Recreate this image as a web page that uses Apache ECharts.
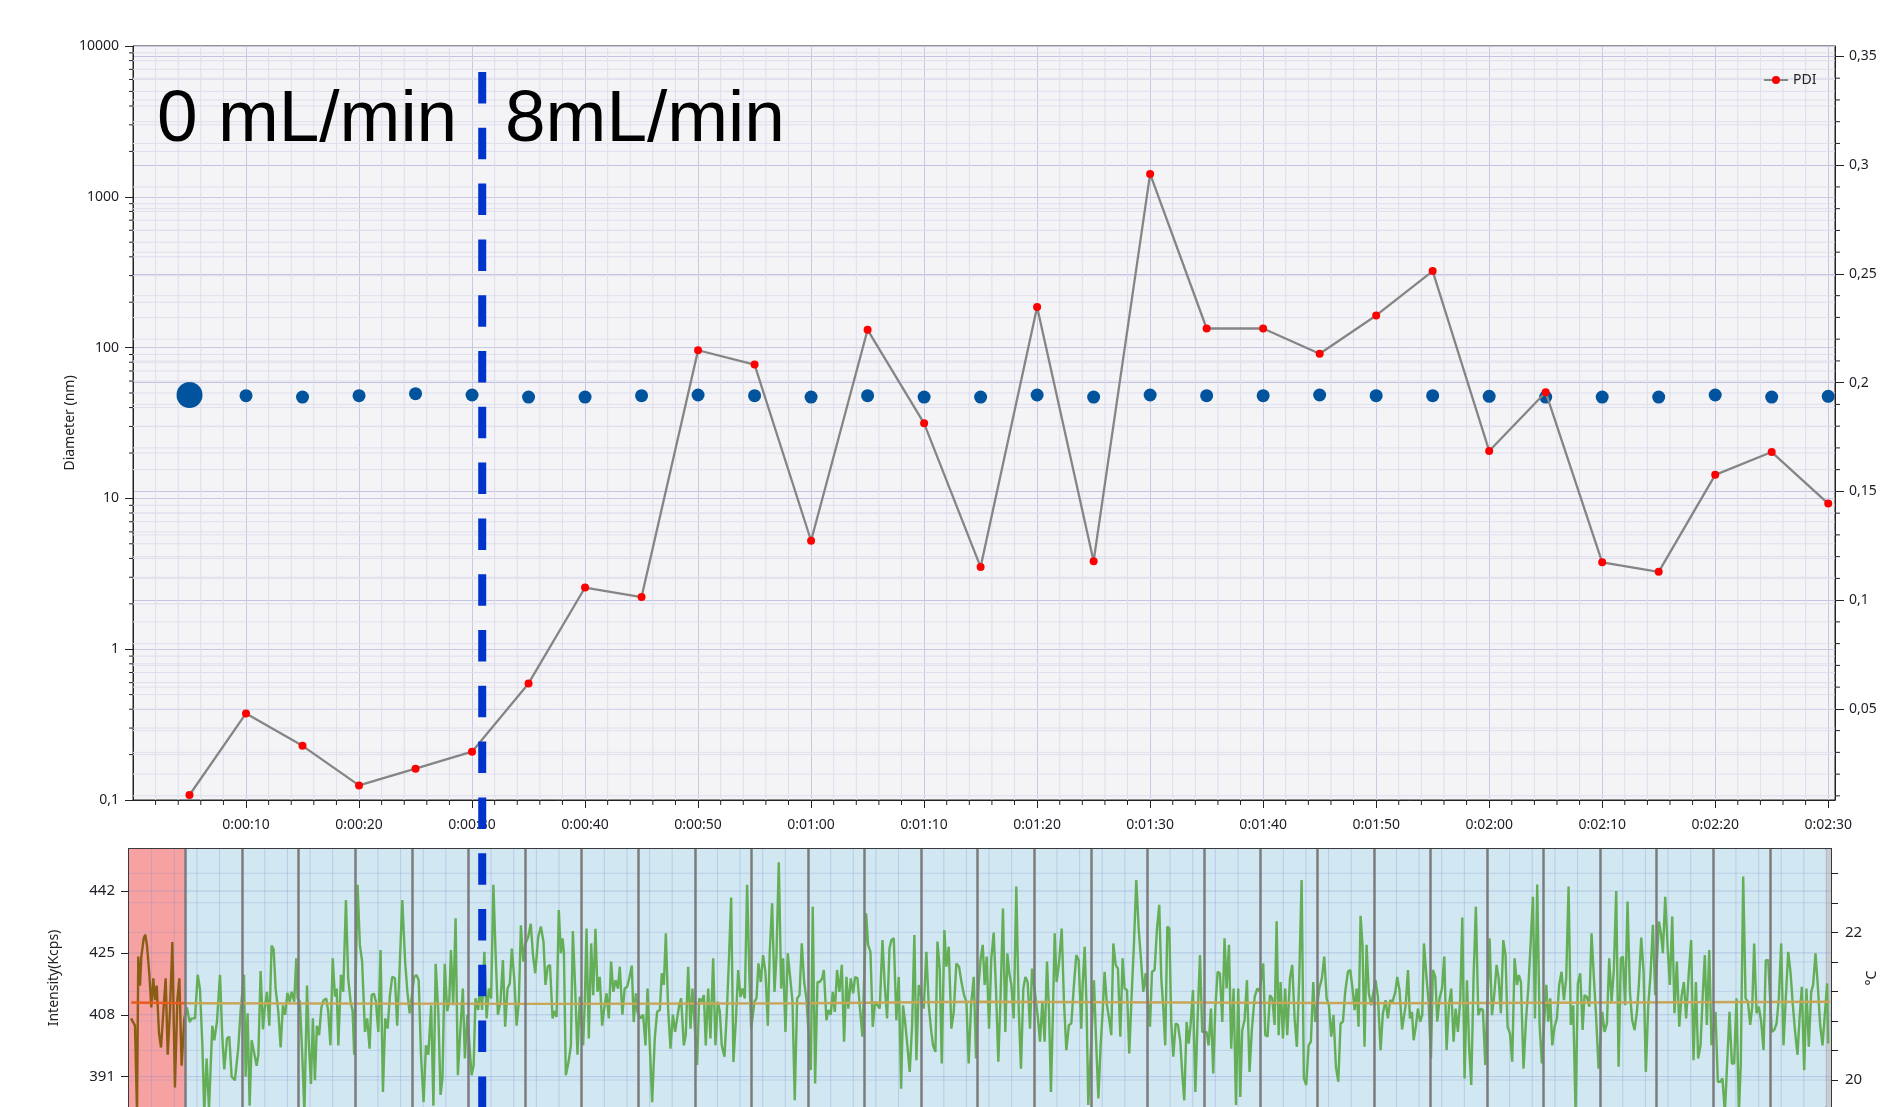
<!DOCTYPE html>
<html>
<head>
<meta charset="utf-8">
<script src="https://cdn.jsdelivr.net/npm/echarts@6/dist/echarts.min.js"></script>
<style>
  html, body { margin: 0; padding: 0; background: #ffffff; }
  #chart { width: 1880px; height: 1107px; }
</style>
</head>
<body>
<div id="chart"></div>
<script>
// ---- Measurement data -------------------------------------------------------
// Acquisition times (s) of each size / PDI measurement
const sampleTimes = [5, 10, 15, 20, 25, 30, 35, 40, 45, 50, 55, 60, 65, 70, 75,
  80, 85, 90, 95, 100, 105, 110, 115, 120, 125, 130, 135, 140, 145, 150];

// Hydrodynamic diameter (nm), log scale
const diameterNm = [48.5, 48, 47, 48, 49.5, 48.5, 47, 47, 48, 48.5, 48, 47, 48, 47, 47,
  48.5, 47, 48.5, 48, 48, 48.5, 48, 48, 47.5, 47, 47, 47, 48.5, 47, 47.5];

// Polydispersity index (right axis)
const pdi = [0.0104, 0.0479, 0.0330, 0.0148, 0.0225, 0.0303, 0.0617, 0.1058, 0.1014, 0.2149,
  0.2083, 0.1273, 0.2243, 0.1813, 0.1152, 0.2348, 0.1179, 0.2960, 0.2249, 0.2249,
  0.2133, 0.2309, 0.2513, 0.1686, 0.1956, 0.1174, 0.1130, 0.1576, 0.1681, 0.1444];

// Scattered light intensity trace: [time s, Kcps]
const intensityKcps = [
  [0.18,407],[0.53,405],[0.71,381],[0.82,424],[0.97,416],[1.09,424],[1.3,429],[1.44,430],[1.59,427],[1.8,419],[1.97,410],[2.15,418],[2.3,412],[2.45,416],[2.65,403],[2.83,399],[3.06,410],[3.24,418],[3.42,397],[3.62,409],[3.83,428],[4.06,388],[4.27,412],[4.45,418],[4.65,394],[4.89,407],
  [5.12,410],[5.36,406],[5.54,407],[5.83,407],[6.07,419],[6.27,415],[6.48,400],[6.65,381],[6.86,396],[7.07,382],[7.36,405],[7.54,401],[7.77,406],[8.04,419],[8.25,401.5],[8.42,393],[8.66,401.5],[8.86,402],[9.07,391],[9.36,390],[9.66,399],[9.86,409],
  [10.16,419],[10.31,391],[10.48,408.4],[10.66,383],[10.84,401],[11.0,400.6],[11.28,394],[11.43,397],[11.63,420],[11.84,404],[12.0,410],[12.19,414.3],[12.4,405],[12.6,427],[12.78,426],[12.96,415],[13.19,409],[13.4,399],[13.6,410.6],[13.8,408],[14.0,414],[14.2,411.6],[14.37,414.3],[14.6,411.6],[14.78,423.5],[14.9,412.5],
  [15.1,411.6],[15.3,397.8],[15.5,381],[15.73,416],[15.9,399.6],[16.08,389],[16.25,407],[16.43,390],[16.6,405],[16.8,402.4],[17.0,410],[17.2,412],[17.43,412.5],[17.6,409],[17.8,399.6],[18.0,423.5],[18.2,413],[18.35,415.2],[18.5,399.6],[18.73,419],[18.93,414.3],[19.17,439.5],[19.37,418],[19.58,411.6],[19.76,409],[19.9,397],
  [20.2,443.7],[20.4,427.2],[20.6,422.6],[20.85,403.3],[21.05,407],[21.26,398.7],[21.44,413.4],[21.64,413.8],[21.82,411.6],[22.03,403.3],[22.23,425.8],[22.44,386.8],[22.64,407],[22.85,404.2],[23.06,413.4],[23.26,418.4],[23.5,418],[23.7,405],[23.9,419.8],[24.15,439.5],[24.4,422.6],[24.6,414.3],[24.8,408.4],
  [25.2,418.4],[25.4,418.9],[25.6,417.5],[25.8,397],[26.03,384],[26.24,399.6],[26.45,397],[26.7,410.6],[26.9,383],[27.1,422],[27.33,409],[27.53,386],[27.7,390.5],[27.9,422],[28.12,409],[28.3,411.6],[28.45,425.8],[28.65,410.6],[28.86,434.5],[29.06,391.4],[29.27,403.3],[29.5,415.2],[29.68,396],[29.9,408],
  [30.27,391.4],[30.45,394],[30.62,412.5],[30.86,409.3],[31.03,416.2],[31.2,409.3],[31.4,425.3],[31.6,407],[31.8,415.2],[32.0,412.5],[32.2,443.7],[32.4,424.4],[32.6,408],[32.83,411.6],[33.04,423],[33.24,404.7],[33.45,415.2],[33.65,416.6],[33.83,426.2],[34.04,418],[34.25,405],[34.45,411.6],[34.63,432.6],[34.84,422.6],[35.0,427.2],
  [35.28,429.4],[35.5,433],[35.7,424.4],[35.9,419.4],[36.16,429.4],[36.4,432.2],[36.63,428],[36.8,416.2],[37.0,421.2],[37.2,421.7],[37.43,407],[37.6,409],[37.78,407.4],[37.98,436.8],[38.16,424.9],[38.31,429],[38.43,425.3],[38.6,391.4],[38.84,395],[39.05,399.6],[39.22,431],[39.43,415.2],[39.63,397],[39.84,413],
  [40.13,399.6],[40.28,411.6],[40.43,431.7],[40.63,401.5],[40.84,427.6],[41.02,413.4],[41.22,431.6],[41.4,414.3],[41.6,418.4],[41.81,405],[41.99,409.7],[42.2,413.9],[42.4,407],[42.6,422.6],[42.8,414.3],[43.0,417.5],[43.2,415.2],[43.37,421.2],[43.6,408],[43.8,415.2],[44.02,415.7],[44.23,418.4],[44.43,421.5],[44.6,406],[44.79,413.9],[44.93,408.8],
  [45.2,407],[45.43,408],[45.64,399.6],[45.82,415.2],[46.02,399.6],[46.23,384],[46.46,401.5],[46.67,408.8],[46.91,409.3],[47.08,419.4],[47.26,416.2],[47.44,430.4],[47.64,409.7],[47.85,398.7],[48.06,408],[48.26,403.3],[48.44,407],[48.62,410.6],[48.79,412.5],[49.03,399.6],[49.2,402.4],[49.41,421.2],[49.62,404.2],[49.79,415.2],
  [50.2,394.2],[50.38,412.5],[50.59,411.6],[50.8,413.4],[50.97,399.6],[51.18,415.2],[51.38,401.5],[51.62,423.5],[51.82,399.6],[52.03,411.6],[52.21,408.8],[52.38,399.6],[52.62,396.5],[52.83,408.8],[53.03,424.4],[53.21,440.2],[53.41,395],[53.62,406],[53.83,420.3],[54.03,412.9],[54.21,415.2],[54.42,412.5],[54.62,443.7],[54.83,418],[54.98,404.2],
  [55.27,411.6],[55.45,412.5],[55.62,422.1],[55.83,417],[56.03,424.4],[56.24,419.8],[56.45,405],[56.62,425.3],[56.83,438.6],[57.04,414.3],[57.21,424],[57.42,449.9],[57.63,415.2],[57.8,423.5],[58.01,403.3],[58.21,424.9],[58.42,418.4],[58.63,411.6],[58.83,384.5],[59.04,412.5],[59.25,413.4],[59.45,427.6],[59.66,417],[59.86,412.5],
  [60.25,392.8],[60.42,437.7],[60.63,389.1],[60.84,417],[61.04,417],[61.25,418],[61.4,420.3],[61.63,406.5],[61.81,409.3],[62.01,408],[62.19,414.3],[62.37,408.8],[62.57,420.3],[62.78,414.3],[62.99,421.7],[63.19,400.6],[63.4,418.4],[63.57,409.7],[63.78,418],[63.99,413.9],[64.16,418.4],[64.37,418],[64.57,410.6],[64.81,402],
  [65.14,435.9],[65.31,427.2],[65.52,425.3],[65.72,404.7],[65.93,411.6],[66.14,410.6],[66.34,409.7],[66.58,428.5],[66.78,416.2],[66.99,407],[67.2,426.2],[67.37,428.5],[67.58,429],[67.81,406.5],[68.02,418.4],[68.23,387.7],[68.4,410.6],[68.58,406.1],[68.78,399.6],[68.99,392.3],[69.2,405],[69.4,429.9],[69.58,395.5],[69.79,416.2],
  [70.23,409.7],[70.46,425.3],[70.67,410.6],[70.88,403.8],[71.05,399.6],[71.26,397.8],[71.44,428.1],[71.64,420.7],[71.82,394.6],[72.05,431.3],[72.23,421.2],[72.44,426.7],[72.67,404.2],[72.88,408.8],[73.11,422.1],[73.35,421.2],[73.56,417],[73.79,413.4],[74.0,411.6],[74.2,394.6],[74.41,410.6],[74.65,418.4],[74.85,396],
  [75.08,416.2],[75.26,423.5],[75.44,427.2],[75.61,416.2],[75.79,424],[76.0,404.2],[76.2,423.5],[76.41,430.6],[76.61,415.2],[76.82,395.1],[77.03,414.3],[77.23,437.2],[77.44,403.3],[77.62,424.9],[77.79,419.4],[77.97,416.2],[78.18,407],[78.41,443.2],[78.62,409.7],[78.82,393.2],[79.03,415.2],[79.21,418.4],[79.41,417],[79.62,404.2],[79.8,420.7],
  [80.12,412.5],[80.32,407],[80.5,400.6],[80.71,411.6],[80.91,400.6],[81.12,422.6],[81.3,408.8],[81.47,386.8],[81.65,409.3],[81.8,430.4],[81.97,417],[82.18,422.1],[82.42,431.7],[82.62,411.6],[82.83,398.3],[83.06,405.2],[83.27,405.6],[83.5,416.2],[83.71,424.4],[83.92,423],[84.15,404.2],[84.27,416.2],[84.45,426.7],[84.62,409.7],[84.77,383.2],
  [85.1,405.2],[85.27,417.5],[85.45,401.5],[85.66,385],[85.86,399.6],[86.04,408.8],[86.21,419.8],[86.42,410.6],[86.63,406.5],[86.8,402.4],[86.98,427.6],[87.19,421.7],[87.39,420.7],[87.6,402],[87.8,423.5],[87.98,415.2],[88.19,414.8],[88.39,397.4],[88.6,413.4],[88.8,427.2],[89.01,445],[89.22,431.7],[89.42,423.5],[89.63,414.3],[89.84,419.4],
  [90.22,404.7],[90.4,419.8],[90.63,420.3],[90.84,431.7],[91.04,438.2],[91.22,418],[91.4,409.7],[91.57,399.6],[91.75,432.2],[91.93,431.7],[92.1,406],[92.28,396.5],[92.49,405.6],[92.69,405.2],[92.9,400.6],[93.08,391.4],[93.25,384.5],[93.46,406],[93.64,400.1],[93.81,405.2],[94.02,414.8],[94.23,386.8],[94.43,407],[94.64,424.4],[94.84,403.3],
  [95.22,403.3],[95.4,399.6],[95.61,409.7],[95.81,391.9],[95.99,409.7],[96.2,419.8],[96.4,419.4],[96.61,406],[96.81,429],[96.99,415.2],[97.2,427.2],[97.4,398.7],[97.61,415.2],[97.82,383.2],[98.02,415.2],[98.2,385.4],[98.37,403.8],[98.58,406.5],[98.79,417.5],[99.02,392.3],[99.23,404.2],[99.47,412.9],[99.7,415.2],[99.91,414.3],
  [100.23,422.1],[100.41,402.4],[100.61,402],[100.82,413.4],[101.03,412.5],[101.23,405.2],[101.41,433.7],[101.59,402.4],[101.76,417],[101.97,401.5],[102.17,415.2],[102.35,402.4],[102.59,418],[102.79,421.7],[103.0,407],[103.2,399.2],[103.41,418],[103.62,445],[103.82,390.5],[104.03,388.7],[104.24,399.6],[104.44,400.6],[104.65,417],[104.82,406],
  [105.18,415.2],[105.41,418],[105.62,424],[105.83,412.5],[106.03,410.6],[106.24,402],[106.44,407.9],[106.65,393.7],[106.86,389.6],[107.06,405.6],[107.27,406.1],[107.47,414.3],[107.71,419.8],[107.92,420.3],[108.12,415.2],[108.3,409.3],[108.48,415.2],[108.65,404.7],[108.83,435.2],[109.0,427.2],[109.18,399.2],[109.36,427.2],[109.56,413.9],[109.77,410.6],
  [110.15,417.5],[110.36,413],[110.6,398.3],[110.8,408.4],[111.04,412],[111.24,407],[111.45,412],[111.66,411.6],[111.9,414.3],[112.07,418.4],[112.27,414.8],[112.5,404],[112.81,410.6],[113.02,420.3],[113.19,407],[113.37,408.8],[113.52,401],[113.69,404.2],[113.9,409.7],[114.1,406.1],[114.28,407.9],[114.43,427.6],[114.64,418.9],[114.84,411.6],
  [115.05,396],[115.22,420.3],[115.43,418.4],[115.61,406.1],[115.81,412.5],[116.02,415.2],[116.23,424],[116.43,398.3],[116.64,410.6],[116.84,415.2],[117.05,400.6],[117.23,409.7],[117.43,403.3],[117.64,412.5],[117.82,434.7],[118.02,390.5],[118.23,417.5],[118.43,398.7],[118.61,388.7],[118.82,418.9],[119.02,437.7],[119.23,407.9],[119.44,409.7],[119.64,409.3],[119.85,394.2],
  [120.23,429],[120.44,407.9],[120.64,413.4],[120.85,421.7],[121.03,418],[121.23,408.4],[121.44,428.5],[121.64,424.4],[121.82,404.7],[122.03,402.9],[122.23,395.1],[122.44,423.5],[122.65,416.2],[122.82,418.9],[123.0,417],[123.23,393.2],[123.44,406.1],[123.65,415.2],[123.85,427.2],[124.06,440.4],[124.24,407],[124.44,443.8],[124.65,405.2],[124.85,394.6],
  [125.24,416.2],[125.41,406.1],[125.59,412.5],[125.77,399.6],[125.97,404.7],[126.18,407],[126.38,416.2],[126.59,419.8],[126.8,412],[127.0,418],[127.21,443.2],[127.41,405.2],[127.62,410.6],[127.83,381],[128.03,416.6],[128.24,419.4],[128.45,403.8],[128.62,413.4],[128.83,412.9],[129.04,410.2],[129.24,430.4],[129.45,418],[129.65,407],[129.86,393.2],
  [130.18,408.8],[130.39,403.3],[130.6,405.6],[130.8,423.5],[131.01,411.6],[131.21,420.3],[131.42,442],[131.63,393.7],[131.83,423.5],[132.01,424],[132.21,410.6],[132.42,439.1],[132.63,414.3],[132.83,406.5],[133.04,403.8],[133.25,408.8],[133.42,416.2],[133.63,429.2],[133.84,419.8],[134.04,392.3],[134.25,410.6],[134.45,418.9],[134.66,432.7],[134.87,413.4],
  [135.19,433.6],[135.37,430.4],[135.54,424.9],[135.75,440.4],[135.96,426.7],[136.16,416.2],[136.37,435],[136.57,408.4],[136.78,422.6],[136.99,404.7],[137.19,412.9],[137.4,417],[137.6,407],[137.84,419.8],[138.04,428.5],[138.25,395.5],[138.46,417],[138.66,396],[138.87,399.6],[139.08,414.3],[139.25,424.4],[139.43,405.2],[139.64,425.8],[139.84,399.6],
  [140.19,408.8],[140.4,389.6],[140.61,389.6],[140.81,390.5],[141.02,381],[141.23,395.1],[141.43,408.8],[141.64,394.6],[141.84,394.6],[142.05,412.5],[142.26,381],[142.43,394.6],[142.64,446],[142.85,412.5],[143.06,411.6],[143.26,405.2],[143.44,410.2],[143.61,427.6],[143.82,408.4],[144.02,410.2],[144.23,406.1],[144.44,398.3],[144.64,423],[144.85,423],
  [145.17,403.3],[145.38,403.8],[145.59,405.6],[145.79,412.5],[146.0,427.6],[146.2,399.6],[146.41,412.9],[146.62,425.3],[146.82,419.8],[147.03,410.6],[147.23,403.3],[147.44,397],[147.62,407],[147.82,415.7],[148.03,392.8],[148.23,415.2],[148.44,399.2],[148.65,414.3],[148.82,416.2],[149.03,424.9],[149.23,416.2],[149.44,405.2],[149.65,399.6],[149.82,399.2],[150.06,416.6],[150.15,400.1]
];

// Cell temperature: [time s, °C]
const temperatureC = [[0.2, 21.05], [5, 21.04], [37, 21.03], [60, 21.04], [75, 21.06], [112, 21.04], [150.3, 21.06]];

// Flow-rate annotations and the moment the flow was switched on (s)
const flowLabels = ['0 mL/min', '8mL/min'];
const flowChangeTime = 30.9;

// Axis ticks
const timeTicks = [10, 20, 30, 40, 50, 60, 70, 80, 90, 100, 110, 120, 130, 140, 150];
const pdiTicks = [0.05, 0.1, 0.15, 0.2, 0.25, 0.3, 0.35];
const intensityTicks = [391, 408, 425, 442];
const temperatureTicks = [20, 20.4, 20.8, 21.2, 21.6, 22, 22.4, 22.8];
const temperatureLabels = [20, 22];

// ---- Helpers ----------------------------------------------------------------
const FONT = '"Noto Sans", "DejaVu Sans", sans-serif';
const LABEL = { fontFamily: FONT, fontSize: 14, color: '#1e1e28' };

function hms(t) {
  const s = Math.round(t);
  const h = Math.floor(s / 3600), m = Math.floor((s % 3600) / 60), sec = s % 60;
  return h + ':' + String(m).padStart(2, '0') + ':' + String(sec).padStart(2, '0');
}
const comma = v => String(+(+v).toPrecision(6)).replace('.', ',');

// minor log-grid values 2..9 per decade
const logMinor = [];
for (let e = -1; e < 4; e++) for (let k = 2; k <= 9; k++) logMinor.push(+(k * Math.pow(10, e)).toPrecision(3));
// 2-s minor time grid and 0.01 PDI grid
const timeMinor = [];
for (let t = 2; t < 150.5; t += 2) if (t % 10 !== 0) timeMinor.push(t);
const timeGrid2s = [];
for (let t = 2; t < 150.4; t += 2) timeGrid2s.push(t);
const pdiMinor = [];
for (let i = 1; i <= 35; i++) if (i % 5 !== 0) pdiMinor.push(i / 100);

// Grid lines plus an optional short outer tick for a list of axis values
function gridTickSeries(o) {
  return {
    type: 'custom', xAxisIndex: o.xAxisIndex || 0, yAxisIndex: o.yAxisIndex, silent: true, z: o.z || 1,
    clip: false, animation: false,
    data: o.values.map(v => o.dir === 'x' ? [v, o.ref] : [o.ref, v]),
    renderItem(params, api) {
      const cs = params.coordSys;
      const p = api.coord([api.value(0), api.value(1)]);
      const children = [];
      const gl = { stroke: o.grid, lineWidth: 1 };
      const tk = { stroke: '#222', lineWidth: 1 };
      if (o.dir === 'x') {
        children.push({ type: 'line', shape: { x1: p[0], y1: cs.y, x2: p[0], y2: cs.y + cs.height }, style: gl });
        if (o.len) children.push({ type: 'line', shape: { x1: p[0], y1: cs.y + cs.height, x2: p[0], y2: cs.y + cs.height + o.len }, style: tk });
      } else {
        children.push({ type: 'line', shape: { x1: cs.x, y1: p[1], x2: cs.x + cs.width, y2: p[1] }, style: gl });
        if (o.len) {
          const x0 = o.dir === 'left' ? cs.x : cs.x + cs.width;
          const x1 = o.dir === 'left' ? cs.x - o.len : cs.x + cs.width + o.len;
          children.push({ type: 'line', shape: { x1: x0, y1: p[1], x2: x1, y2: p[1] }, style: tk });
        }
      }
      return { type: 'group', children };
    }
  };
}

const chart = echarts.init(document.getElementById('chart'), null, { renderer: 'canvas' });

const option = {
  animation: false,
  backgroundColor: '#ffffff',
  grid: [
    { left: 133, right: 45, top: 46, height: 754, show: true, backgroundColor: '#f4f4f6',
      borderColor: '#222', borderWidth: 1, outerBoundsMode: 'none' },
    { left: 129, right: 49, top: 849, bottom: 0, show: true, backgroundColor: 'transparent',
      borderColor: '#3a3a3a', borderWidth: 2, outerBoundsMode: 'none' }
  ],
  legend: {
    data: ['PDI'], left: 1758, top: 68, itemWidth: 24, itemHeight: 10, itemGap: 4,
    textStyle: { fontFamily: FONT, fontSize: 14, color: '#222' }
  },
  xAxis: [
    {
      gridIndex: 0, type: 'value', min: 0, max: 150.6, interval: 10,
      axisLine: { lineStyle: { color: '#222', width: 1 } },
      axisTick: { show: true, length: 8, lineStyle: { color: '#222' }, customValues: timeTicks },
      axisLabel: Object.assign({ margin: 18, formatter: hms, customValues: timeTicks }, LABEL),
      splitLine: { show: true, lineStyle: { color: '#c9c9e3', width: 1 } }
    },
    {
      gridIndex: 1, type: 'value', min: 0, max: 150.4,
      axisLine: { show: false }, axisTick: { show: false }, axisLabel: { show: false },
      splitLine: { show: false }
    }
  ],
  yAxis: [
    {
      gridIndex: 0, type: 'log', logBase: 10, min: 0.1, max: 10000,
      name: 'Diameter (nm)', nameLocation: 'middle', nameGap: 56, nameRotate: 90, nameMoveOverlap: false,
      nameTextStyle: { fontFamily: FONT, fontSize: 14, color: '#222' },
      axisLine: { show: true, lineStyle: { color: '#222' } },
      axisTick: { show: true, length: 8, lineStyle: { color: '#222' } },
      axisLabel: Object.assign({ margin: 14, formatter: comma }, LABEL),
      splitLine: { show: true, lineStyle: { color: '#c9c9e3' } }
    },
    {
      gridIndex: 0, type: 'value', position: 'right', min: 0.0081, max: 0.3548, splitNumber: 7,
      axisLine: { show: true, lineStyle: { color: '#222' } },
      axisTick: { show: true, length: 9, lineStyle: { color: '#222' }, customValues: pdiTicks },
      axisLabel: Object.assign({ margin: 14, formatter: v => String(Math.round(v * 100) / 100).replace('.', ','), customValues: pdiTicks }, LABEL),
      splitLine: { show: true, lineStyle: { color: '#c3c3e3' } }
    },
    {
      gridIndex: 1, type: 'value', min: 382.66, max: 453.54,
      name: 'Intensity(Kcps)', nameLocation: 'middle', nameGap: 68, nameRotate: 90,
      nameTextStyle: { fontFamily: FONT, fontSize: 14, color: '#222' },
      axisLine: { show: true, lineStyle: { color: '#3a3a3a', width: 2 } },
      axisTick: { show: true, length: 8, lineStyle: { color: '#222' }, customValues: intensityTicks },
      axisLabel: Object.assign({ margin: 14, customValues: intensityTicks }, LABEL, { fontSize: 15 }),
      splitLine: { show: false }
    },
    {
      gridIndex: 1, type: 'value', position: 'right', min: 19.634, max: 23.128,
      name: '°C', nameLocation: 'middle', nameGap: 34, nameRotate: 90, nameMoveOverlap: false,
      nameTextStyle: { fontFamily: FONT, fontSize: 14, color: '#222' },
      axisLine: { show: true, lineStyle: { color: '#3a3a3a', width: 2 } },
      axisTick: { show: true, length: 7, lineStyle: { color: '#222' }, customValues: temperatureTicks },
      axisLabel: Object.assign({ margin: 14, customValues: temperatureLabels, formatter: v => String(Math.round(v)) }, LABEL, { fontSize: 15 }),
      splitLine: { show: false }
    }
  ],
  series: [
    // size panel: diameter
    {
      name: 'Diameter', type: 'scatter', xAxisIndex: 0, yAxisIndex: 0, z: 3,
      data: sampleTimes.map((t, i) => [t, diameterNm[i]]),
      symbol: 'circle', symbolSize: (v, p) => p.dataIndex === 0 ? 26 : 13,
      itemStyle: { color: '#00539c', opacity: 1 }
    },
    // size panel: PDI
    {
      name: 'PDI', type: 'line', xAxisIndex: 0, yAxisIndex: 1, z: 4,
      data: sampleTimes.map((t, i) => [t, pdi[i]]),
      symbol: 'circle', symbolSize: 8, showSymbol: true,
      lineStyle: { color: '#858585', width: 2.3 },
      itemStyle: { color: '#ff0000', borderWidth: 0 }
    },
    // size panel minor grids
    gridTickSeries({ dir: 'left', yAxisIndex: 0, values: logMinor, ref: 10, len: 4, grid: '#dedeee' }),
    gridTickSeries({ dir: 'right', yAxisIndex: 1, values: pdiMinor, ref: 10, len: 5, grid: '#e0e0ee' }),
    gridTickSeries({ dir: 'x', yAxisIndex: 0, values: timeMinor, ref: 1, len: 5, grid: '#dedeee' }),
    // intensity panel backgrounds
    {
      type: 'line', xAxisIndex: 1, yAxisIndex: 2, data: [], z: 0, silent: true,
      markArea: {
        silent: true,
        data: [
          [{ xAxis: 0, itemStyle: { color: '#f7a2a2' } }, { xAxis: sampleTimes[0] }],
          [{ xAxis: sampleTimes[0], itemStyle: { color: '#d1e7f1' } }, { xAxis: 149.9 }],
          [{ xAxis: 149.9, itemStyle: { color: '#c8cdd2' } }, { xAxis: 150.4 }]
        ]
      }
    },
    // intensity panel grid
    gridTickSeries({ dir: 'x', xAxisIndex: 1, yAxisIndex: 2, values: timeGrid2s, ref: 410, len: 0, grid: 'rgba(110,130,200,0.25)' }),
    gridTickSeries({ dir: 'left', xAxisIndex: 1, yAxisIndex: 2, values: intensityTicks, ref: 10, len: 0, grid: 'rgba(110,130,200,0.32)' }),
    gridTickSeries({ dir: 'right', xAxisIndex: 1, yAxisIndex: 3, values: temperatureTicks, ref: 10, len: 0, grid: 'rgba(110,130,200,0.22)' }),
    // measurement boundaries
    {
      type: 'line', xAxisIndex: 1, yAxisIndex: 2, data: [], z: 2, silent: true,
      markLine: {
        silent: true, symbol: 'none', label: { show: false },
        lineStyle: { color: '#7c7c7c', width: 2.5, type: 'solid' },
        data: sampleTimes.filter(t => t < 150).map(t => ({ xAxis: t }))
      }
    },
    // intensity trace: first interval, then the rest
    {
      name: 'Intensity', type: 'line', xAxisIndex: 1, yAxisIndex: 2, z: 3,
      data: intensityKcps.filter(p => p[0] <= 5.12), showSymbol: false, symbol: 'none',
      lineStyle: { width: 2.4, color: '#8a5d14' }
    },
    {
      name: 'Intensity ', type: 'line', xAxisIndex: 1, yAxisIndex: 2, z: 3,
      data: intensityKcps.filter(p => p[0] >= 4.89), showSymbol: false, symbol: 'none',
      lineStyle: { width: 2.4, color: '#63ae56' }
    },
    // temperature
    {
      name: 'Temperature', type: 'line', xAxisIndex: 1, yAxisIndex: 3, z: 4,
      data: temperatureC.filter(p => p[0] <= 5), showSymbol: false, symbol: 'none',
      lineStyle: { width: 2.4, color: '#e65c1c' }
    },
    {
      name: 'Temperature ', type: 'line', xAxisIndex: 1, yAxisIndex: 3, z: 4,
      data: temperatureC.filter(p => p[0] >= 5), showSymbol: false, symbol: 'none',
      lineStyle: { width: 2.4, color: '#c8a658' }
    }
  ]
};

chart.setOption(option);

// Flow annotations and the switch-over marker
const xSwitch = chart.convertToPixel({ xAxisIndex: 0 }, flowChangeTime);
chart.setOption({
  graphic: [
    { type: 'text', left: 157, top: 84, z: 100,
      style: { text: flowLabels[0], font: '73px "Liberation Sans", Arial, sans-serif', fill: '#000' } },
    { type: 'text', left: 505, top: 84, z: 100,
      style: { text: flowLabels[1], font: '73px "Liberation Sans", Arial, sans-serif', fill: '#000' } },
    { type: 'line', z: 100, silent: true,
      shape: { x1: xSwitch, y1: 72, x2: xSwitch, y2: 1107 },
      style: { stroke: '#0033cc', lineWidth: 8, lineDash: [31.5, 24.3] } }
  ]
});
</script>
</body>
</html>
